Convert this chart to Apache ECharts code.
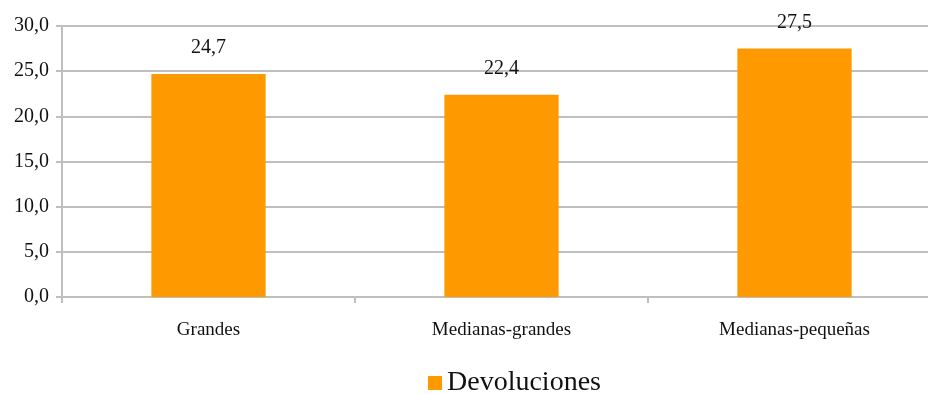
<!DOCTYPE html>
<html>
<head>
<meta charset="utf-8">
<script src="https://cdn.jsdelivr.net/npm/echarts@6/dist/echarts.min.js"></script>
<style>
    html, body { margin: 0; padding: 0; background: #fff; overflow: hidden; width: 928px; height: 394px; }
    #main { width: 945px; height: 402px; }
</style>
</head>
<body>
<div id="main"></div>
<script>
var categories = ['Grandes', 'Medianas-grandes', 'Medianas-pequeñas'];
var devoluciones = [24.7, 22.4, 27.5];
var seriesName = 'Devoluciones';

var fontFamily = '"Liberation Serif", "DejaVu Serif", serif';

function fmt(v)
{
    return Number(v).toFixed(1).replace('.', ',');
}

var myChart = echarts.init(document.getElementById('main'));

// the chart box is a bit larger than the window: the plot area and the
// legend run slightly past the visible edges, as in the original
var option = {
    animation: false,
    textStyle: { fontFamily: fontFamily },
    grid: {
        left: 62,
        right: 4,
        top: 26,
        bottom: 105
    },
    legend: {
        data: [seriesName],
        bottom: 0,
        left: 423,
        icon: 'rect',
        itemWidth: 14,
        itemHeight: 14,
        itemGap: 7,
        textStyle: { fontSize: 28, color: '#111', fontFamily: fontFamily }
    },
    xAxis: {
        type: 'category',
        data: categories,
        axisLine: { lineStyle: { color: '#BFBFBF', width: 2 } },
        axisTick: { show: true, alignWithLabel: false, length: 6, lineStyle: { color: '#BFBFBF', width: 2 } },
        axisLabel: { margin: 24, fontSize: 19, color: '#111', fontFamily: fontFamily }
    },
    yAxis: {
        type: 'value',
        min: 0,
        max: 30,
        interval: 5,
        axisLine: { show: true, lineStyle: { color: '#BFBFBF', width: 2 } },
        axisTick: { show: true, length: 6, lineStyle: { color: '#BFBFBF', width: 2 } },
        splitLine: { lineStyle: { color: '#BFBFBF', width: 2 } },
        axisLabel: {
            margin: 13,
            fontSize: 20,
            color: '#111',
            fontFamily: fontFamily,
            formatter: function (v) { return fmt(v); }
        }
    },
    series: [
        {
            name: seriesName,
            type: 'bar',
            barWidth: '39%',
            itemStyle: { color: '#FF9900' },
            label: {
                show: true,
                position: 'top',
                distance: 16,
                fontSize: 20,
                color: '#111',
                fontFamily: fontFamily,
                formatter: function (p) { return fmt(p.value); }
            },
            data: devoluciones
        }
    ]
};

myChart.setOption(option);
</script>
</body>
</html>
